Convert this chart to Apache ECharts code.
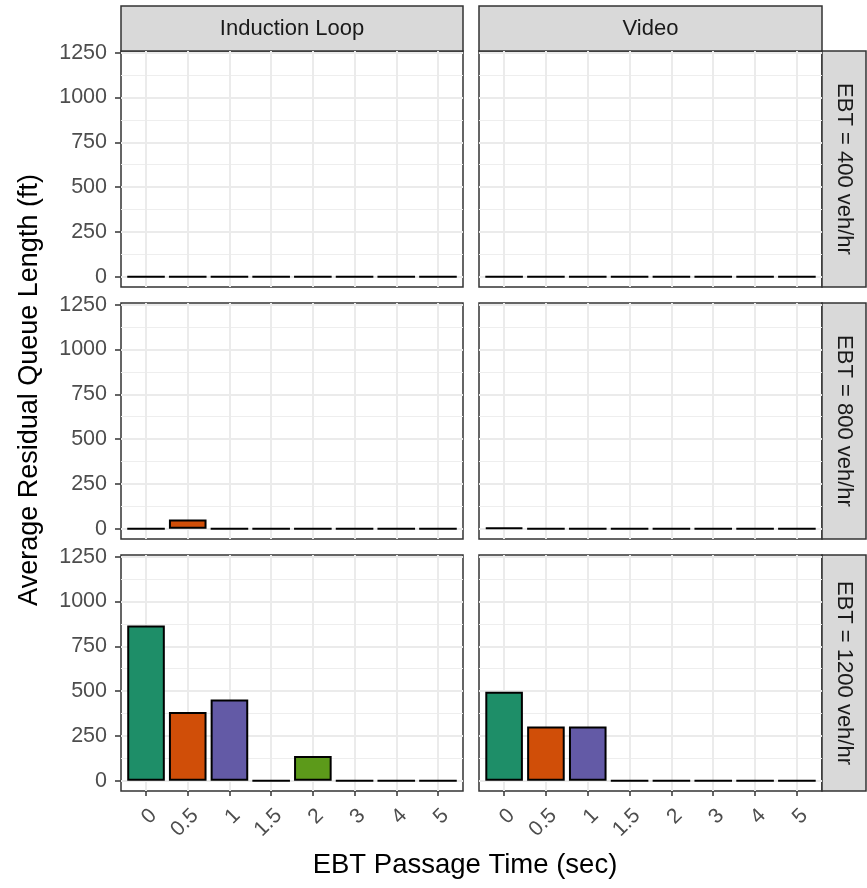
<!DOCTYPE html>
<html>
<head>
<meta charset="utf-8">
<script src="https://cdn.jsdelivr.net/npm/echarts@6/dist/echarts.min.js"></script>
<style>
  html, body { margin: 0; padding: 0; background: #fff; }
  #chart { width: 867px; height: 888px; }
</style>
</head>
<body>
<div id="chart"></div>
<script>
// categories and values
const passageTimes = ['0', '0.5', '1', '1.5', '2', '3', '4', '5'];
const loop400 = [0, 0, 0, 0, 0, 0, 0, 0];
const video400 = [0, 0, 0, 0, 0, 0, 0, 0];
const loop800 = [0, 52, 0, 0, 0, 0, 0, 0];
const video800 = [5, 0, 0, 0, 0, 0, 0, 0];
const loop1200 = [867, 384, 453, 0, 138, 0, 0, 0];
const video1200 = [496, 302, 302, 0, 0, 0, 0, 0];
const yTicks = [0, 250, 500, 750, 1000, 1250];
const yMinor = [125, 375, 625, 875, 1125];
const colLabels = ['Induction Loop', 'Video'];
const rowLabels = ['EBT = 400 veh/hr', 'EBT = 800 veh/hr', 'EBT = 1200 veh/hr'];

// Dark2-like fills as they appear in the picture, one per passage time
const palette = ['#1E8E68', '#D04E08', '#635AA6', '#E7298A', '#5C9A1A', '#E6AB02', '#A6761D', '#666666'];

const panels = [
  [loop400, video400],
  [loop800, video800],
  [loop1200, video1200]
];

// layout (px)
const colLeft = [121, 479];
const colWidth = [342, 343];
const rowTop = [51, 303, 555];
const panelH = 236;
const font = '"Liberation Sans", Arial, sans-serif';

const chart = echarts.init(document.getElementById('chart'));

const grids = [], xAxes = [], yAxes = [], series = [], graphics = [];

panels.forEach((row, r) => {
  row.forEach((vals, c) => {
    const g = grids.length;
    const bottomRow = r === panels.length - 1;
    grids.push({
      left: colLeft[c], top: rowTop[r], width: colWidth[c], height: panelH,
      show: true, backgroundColor: '#fff', borderColor: '#333', borderWidth: 1.5
    });
    xAxes.push({
      type: 'value', gridIndex: g, min: -0.6, max: 7.6, position: 'bottom',
      axisLine: { show: false, onZero: false },
      axisTick: {
        show: bottomRow, customValues: passageTimes.map((_, i) => i),
        length: 5, lineStyle: { color: '#333', width: 1.5 }
      },
      axisLabel: {
        show: bottomRow, customValues: passageTimes.map((_, i) => i),
        formatter: v => passageTimes[v], rotate: 45, margin: 14,
        verticalAlign: 'top',
        color: '#4D4D4D', fontSize: 21, fontFamily: font
      },
      splitLine: { show: true, lineStyle: { color: '#EBEBEB', width: 2 } }
    });
    // major y axis
    yAxes.push({
      type: 'value', gridIndex: g, min: -57.5, max: 1260, position: 'left',
      axisLine: { show: false, onZero: false },
      axisTick: {
        show: c === 0, customValues: yTicks,
        length: 6, lineStyle: { color: '#333', width: 1.5 }
      },
      axisLabel: {
        show: c === 0, customValues: yTicks, margin: 14,
        formatter: v => String(v),
        color: '#4D4D4D', fontSize: 21.5, fontFamily: font
      },
      splitLine: { show: true, lineStyle: { color: '#EBEBEB', width: 2 } }
    });
    // minor grid lines
    yAxes.push({
      type: 'value', gridIndex: g, min: -57.5, max: 1260, position: 'right',
      axisLine: { show: false, onZero: false },
      axisTick: { show: false, customValues: yMinor },
      axisLabel: { show: false, customValues: yMinor },
      splitLine: { show: true, lineStyle: { color: '#EEEEEE', width: 1 } }
    });
    series.push({
      type: 'bar', xAxisIndex: g, yAxisIndex: yAxes.length - 2,
      barWidth: 37.6, silent: true, animation: false,
      itemStyle: { borderColor: '#000', borderWidth: 2 },
      data: vals.map((v, i) => ({ value: [i, v], itemStyle: { color: palette[i] } }))
    });
  });
});

// column strips
colLabels.forEach((t, c) => {
  graphics.push({
    type: 'rect', shape: { x: colLeft[c], y: 6, width: colWidth[c], height: 45 },
    style: { fill: '#D9D9D9', stroke: '#333', lineWidth: 1.5 }
  });
  graphics.push({
    type: 'text', x: colLeft[c] + colWidth[c] / 2, y: 29,
    style: { text: t, font: '22px ' + font, fill: '#1A1A1A', textAlign: 'center', textVerticalAlign: 'middle' }
  });
});

// row strips
rowLabels.forEach((t, r) => {
  graphics.push({
    type: 'rect', shape: { x: 822, y: rowTop[r], width: 44, height: panelH },
    style: { fill: '#D9D9D9', stroke: '#333', lineWidth: 1.5 }
  });
  graphics.push({
    type: 'text', x: 844, y: rowTop[r] + panelH / 2, rotation: -Math.PI / 2,
    style: { text: t, font: '22px ' + font, fill: '#1A1A1A', textAlign: 'center', textVerticalAlign: 'middle' }
  });
});

// axis titles
graphics.push({
  type: 'text', x: 30, y: 390, rotation: Math.PI / 2,
  style: { text: 'Average Residual Queue Length (ft)', font: '27px ' + font, fill: '#000', textAlign: 'center', textVerticalAlign: 'middle' }
});
graphics.push({
  type: 'text', x: 465, y: 865,
  style: { text: 'EBT Passage Time (sec)', font: '27.5px ' + font, fill: '#000', textAlign: 'center', textVerticalAlign: 'middle' }
});

chart.setOption({
  animation: false,
  backgroundColor: '#fff',
  grid: grids,
  xAxis: xAxes,
  yAxis: yAxes,
  series: series,
  graphic: graphics
});
</script>
</body>
</html>
